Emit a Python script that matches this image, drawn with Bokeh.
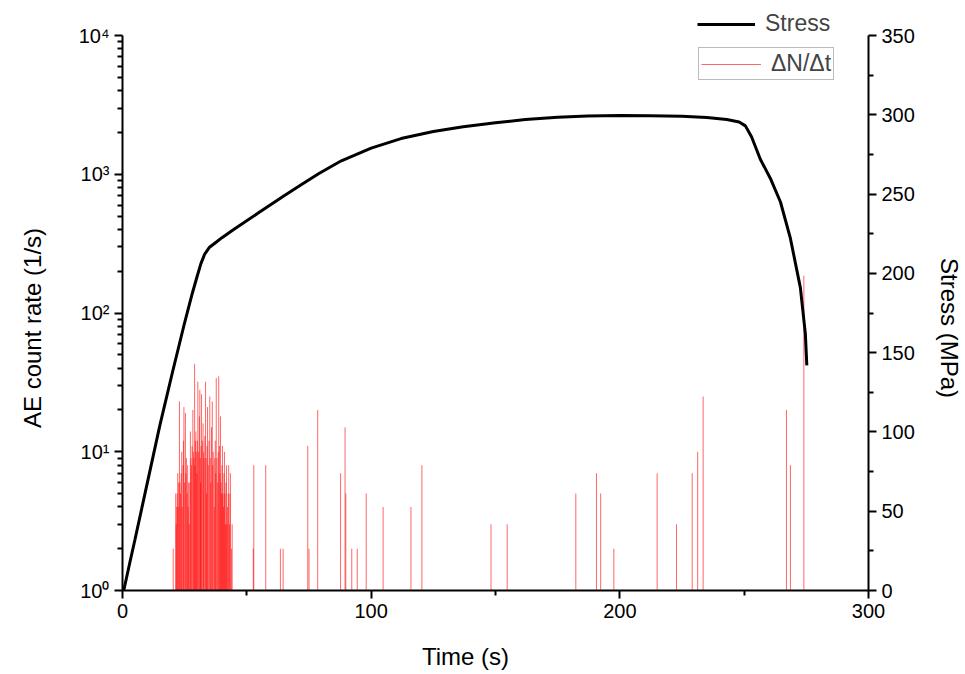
from bokeh.plotting import figure
from bokeh.models import (Range1d, LinearAxis, LinearScale, FixedTicker, Legend, LegendItem)
from bokeh.embed import file_html
from bokeh.resources import INLINE

# --- data ---
stress_time = [0, 0.5, 3.0, 5.0, 10.0, 15.0, 20.0, 25.0, 28.0, 30.0, 31.5, 33.0, 35.0, 37.5,
               40.0, 45.0, 55.0, 65.0, 72.0, 79.0, 88.0, 100.0, 112.0, 125.0, 137.0, 150.0,
               162.0, 175.0, 187.0, 200.0, 212.0, 225.0, 235.0, 243.0, 248.0, 250.5, 253.0,
               256.5, 260.5, 264.6, 268.6, 272.6, 274.6, 275.2]
stress_mpa = [0, 0, 18, 32, 68, 104, 137, 169, 187, 198, 206, 212, 216.5, 219.5,
              222.5, 228, 238.5, 249, 256, 263, 271, 279, 285, 289.5, 292.5, 295,
              297, 298.5, 299.3, 299.5, 299.4, 299, 298.3, 297, 295.5, 293, 286,
              272, 260, 245, 222, 191, 162, 142]

ae_time = [20.4, 21.4, 21.6, 21.8, 22.0, 22.2, 22.4, 22.6, 22.9, 23.1,
           23.3, 23.6, 23.8, 24.0, 24.3, 24.5, 24.7, 25.0, 25.3, 25.5,
           25.7, 26.0, 26.2, 26.4, 26.6, 26.8, 27.1, 27.3, 27.5, 27.7,
           28.0, 28.3, 28.5, 28.7, 29.0, 29.1, 29.3, 29.5, 29.7, 29.9,
           30.1, 30.3, 30.6, 30.9, 31.1, 31.3, 31.4, 31.6, 31.8, 32.1,
           32.4, 32.6, 32.8, 33.1, 33.4, 33.6, 33.8, 34.0, 34.2, 34.5,
           34.8, 35.1, 35.3, 35.5, 35.8, 36.1, 36.3, 36.5, 36.9, 37.1,
           37.3, 37.5, 37.7, 38.0, 38.3, 38.5, 38.7, 39.0, 39.2, 39.4,
           39.6, 39.8, 40.0, 40.2, 40.4, 40.6, 40.8, 41.0, 41.2, 41.4,
           41.6, 41.8, 42.0, 42.2, 42.5, 42.7, 43.0, 43.2, 43.4, 43.8,
           44.1,
           52.6, 52.8, 57.6, 63.5, 64.6, 74.5, 75.0, 78.5, 87.7, 89.5,
           89.8, 92.2, 94.4, 98.0, 104.8, 116.0, 120.4, 148.2, 154.7, 182.3,
           190.6, 192.3, 197.6, 215.0, 222.8, 229.1, 231.3, 233.5, 267.0, 268.6,
           274.0]
ae_rate = [2, 5, 3, 4, 5, 7, 4, 6, 23, 6,
           5, 7, 10, 4, 8, 12, 21, 6, 19, 7,
           9, 5, 8, 4, 6, 3, 6, 14, 9, 8,
           11, 20, 10, 9, 43, 8, 12, 14, 10, 7,
           12, 32, 10, 18, 28, 9, 6, 11, 26, 12,
           16, 10, 9, 13, 32, 9, 5, 11, 21, 8,
           12, 25, 9, 6, 15, 23, 8, 10, 4, 9,
           12, 7, 34, 9, 6, 10, 35, 11, 7, 18,
           6, 5, 8, 11, 5, 4, 7, 10, 5, 3,
           6, 8, 3, 4, 5, 8, 3, 5, 7, 2,
           3,
           2, 8, 8, 2, 2, 11, 2, 20, 7, 15,
           5, 2, 2, 5, 4, 4, 8, 3, 3, 5,
           7, 5, 2, 7, 3, 7, 10, 25, 20, 8,
           186]

x_ticks = [0, 100, 200, 300]
x_minor = [50, 150, 250]
y_ticks = [1, 10, 100, 1000, 10000]
y_labels = {1: "10\u2070", 10: "10\u00b9", 100: "10\u00b2", 1000: "10\u00b3", 10000: "10\u2074"}
s_ticks = [0, 50, 100, 150, 200, 250, 300, 350]
s_minor = [25, 75, 125, 175, 225, 275, 325]

FONT = "Liberation Sans"
NB = "\u00a0"

# the frame extends 30 px above the axes' top (room for the "Stress" legend entry)
AXIS_PX = 555.0
EXTRA_PX = 30.0
y_top = 10 ** (4 * (AXIS_PX + EXTRA_PX) / AXIS_PX)
s_top = 350 * (AXIS_PX + EXTRA_PX) / AXIS_PX

p = figure(width=965, height=674, output_backend="svg", toolbar_location=None,
           y_axis_type="log", x_range=Range1d(0, 300), y_range=Range1d(1, y_top),
           min_border_left=122, min_border_right=97, min_border_top=5, min_border_bottom=84)
p.extra_y_ranges = {"stress": Range1d(0, s_top)}
p.extra_y_scales = {"stress": LinearScale()}
p.outline_line_color = None
p.xgrid.visible = False
p.ygrid.visible = False
p.background_fill_color = "white"
p.border_fill_color = "white"

ones = [1] * len(ae_time)
r_ae = p.segment(x0=ae_time, y0=ones, x1=ae_time, y1=ae_rate, line_color="red",
                 line_alpha=0.6, line_width=1)
r_st = p.line(stress_time, stress_mpa, y_range_name="stress", line_color="black", line_width=3)

right = LinearAxis(y_range_name="stress")
p.add_layout(right, "right")

minor_log = [m * 10 ** k for k in range(4) for m in range(2, 10)]
p.yaxis[0].ticker = FixedTicker(ticks=y_ticks, minor_ticks=minor_log)
p.yaxis[0].major_label_overrides = y_labels
p.yaxis[0].bounds = (1, 10000)
p.xaxis[0].ticker = FixedTicker(ticks=x_ticks, minor_ticks=x_minor)
right.ticker = FixedTicker(ticks=s_ticks, minor_ticks=s_minor)
right.bounds = (0, 350)

# non-breaking spaces shift the labels off-centre, as in the reference
p.xaxis[0].axis_label = "Time (s)" + NB * 9
p.yaxis[0].axis_label = "AE count rate (1/s)" + NB * 9
right.axis_label = NB * 9 + "Stress (MPa)"

for ax in [p.xaxis[0], p.yaxis[0], right]:
    ax.axis_line_width = 2
    ax.axis_line_color = "black"
    ax.major_tick_line_width = 2
    ax.minor_tick_line_width = 2
    ax.major_tick_line_color = "black"
    ax.minor_tick_line_color = "black"
    ax.major_tick_in = 0
    ax.major_tick_out = 8
    ax.minor_tick_in = 0
    ax.minor_tick_out = 5
    ax.major_label_text_font = FONT
    ax.major_label_text_font_size = "20px"
    ax.major_label_text_color = "black"
    ax.axis_label_text_font = FONT
    ax.axis_label_text_font_size = "24px"
    ax.axis_label_text_font_style = "normal"
    ax.axis_label_text_color = "black"

p.xaxis[0].axis_label_standoff = 22
p.yaxis[0].axis_label_standoff = 30
right.axis_label_standoff = 18

leg1 = Legend(items=[LegendItem(label="Stress", renderers=[r_st])], location=(573, 551),
              border_line_alpha=0, background_fill_alpha=0, padding=2, margin=0,
              glyph_width=58, glyph_height=20, label_standoff=10,
              label_text_font=FONT, label_text_font_size="23px")
leg2 = Legend(items=[LegendItem(label="\u0394N/\u0394t", renderers=[r_ae])], location=(576, 510),
              border_line_color="#777777", border_line_width=1, background_fill_alpha=1,
              padding=2, margin=0, glyph_width=60, glyph_height=20, label_standoff=10,
              label_text_font=FONT, label_text_font_size="23px")
p.add_layout(leg1, "center")
p.add_layout(leg2, "center")

open("out.html", "w").write(file_html(p, INLINE))
